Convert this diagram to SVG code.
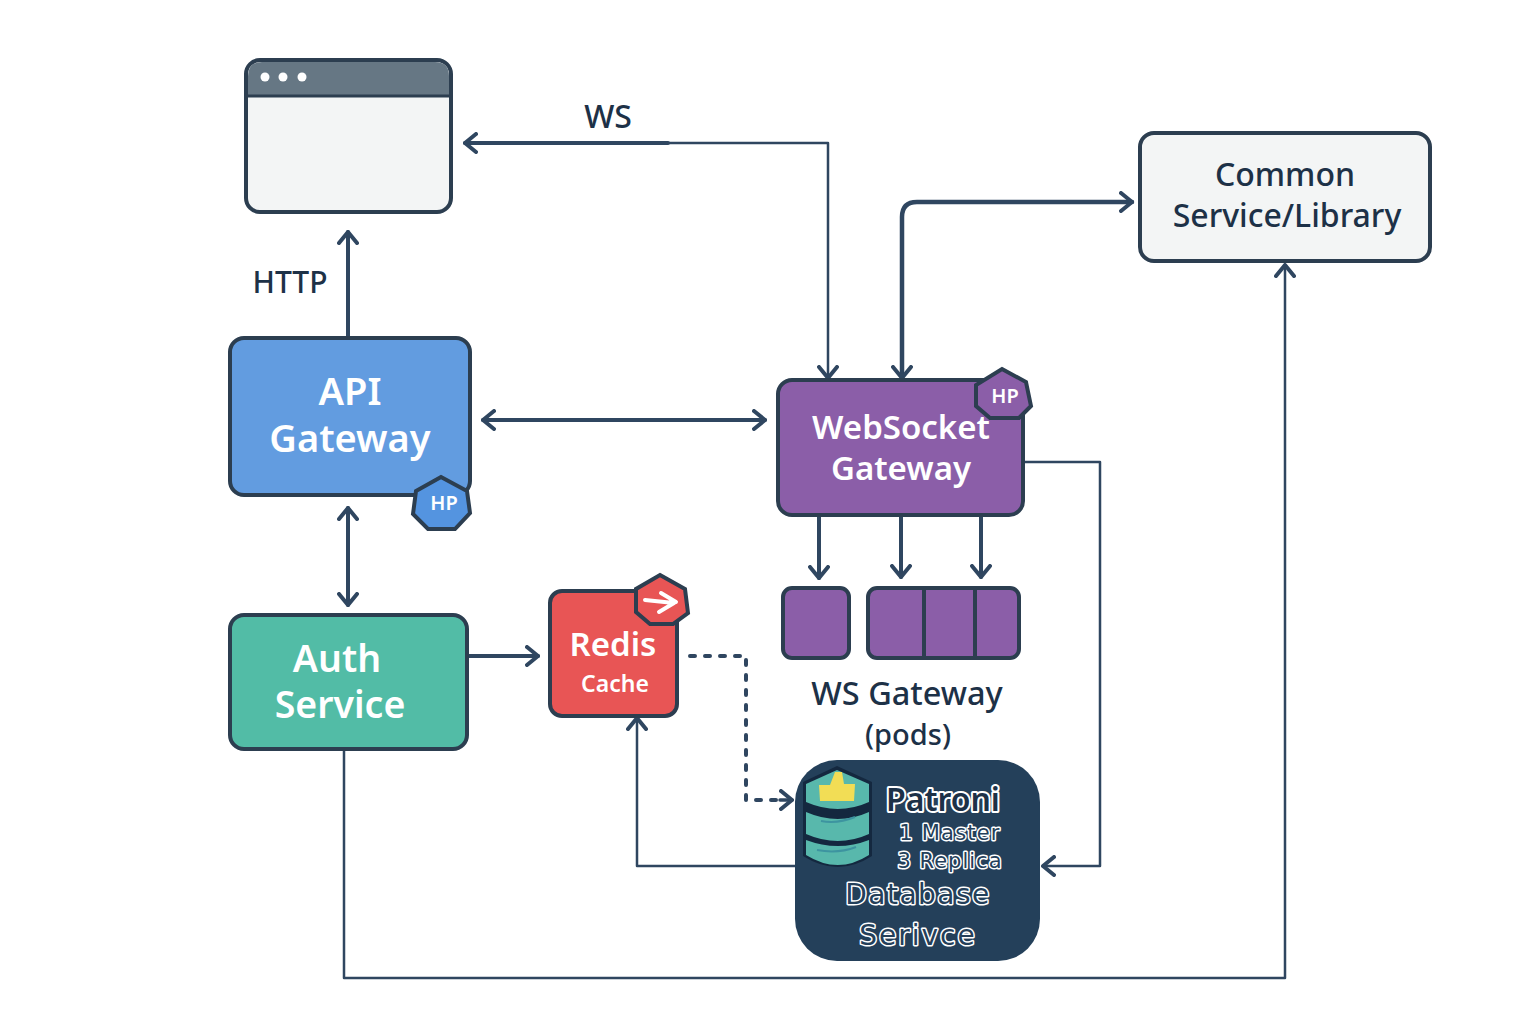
<svg xmlns="http://www.w3.org/2000/svg" width="1536" height="1024" viewBox="0 0 1536 1024">
<style>
text{font-family:"Noto Sans","Open Sans","Liberation Sans",sans-serif;text-anchor:middle}
.n{stroke:#2c3e50;stroke-width:4}
.w{fill:#fff;font-weight:600}
.d{fill:#1d3147;font-weight:500}
.o{fill:#24405a;stroke:#fff;stroke-width:3;paint-order:stroke;stroke-linejoin:round;font-family:"DejaVu Sans",sans-serif}
.p{fill:#1d3147;stroke:#fff;stroke-width:4;paint-order:stroke;stroke-linejoin:round;font-weight:600}
.c{fill:none;stroke:#2f4660;stroke-linecap:round;stroke-linejoin:round}
</style>
<defs>
<marker id="a" viewBox="-13 -11 15 22" refX="0" refY="0" markerUnits="userSpaceOnUse" markerWidth="15" markerHeight="22" orient="auto-start-reverse"><path d="M-11-9L0 0L-11 9" fill="none" stroke="#2f4660" stroke-width="4" stroke-linecap="round" stroke-linejoin="round"/></marker>
</defs>
<rect width="1536" height="1024" fill="#fff"/>
<g id="connectors">
<path class="c" stroke-width="2.500" d="M668 143H828V378" marker-end="url(#a)"/>
<path class="c" stroke-width="4" d="M668 143H465" marker-end="url(#a)"/>
<path class="c" stroke-width="4" d="M348 337V232" marker-end="url(#a)"/>
<path class="c" stroke-width="4" d="M483 420H765" marker-start="url(#a)" marker-end="url(#a)"/>
<path class="c" stroke-width="4.500" d="M902 378V217Q902 202 917 202H1132" marker-start="url(#a)" marker-end="url(#a)"/>
<path class="c" stroke-width="4" d="M348 508V605" marker-start="url(#a)" marker-end="url(#a)"/>
<path class="c" stroke-width="4" d="M468 656H538" marker-end="url(#a)"/>
<path class="c" stroke-width="4" d="M819 516V578" marker-end="url(#a)"/>
<path class="c" stroke-width="4" d="M901 516V577" marker-end="url(#a)"/>
<path class="c" stroke-width="4" d="M981 516V577" marker-end="url(#a)"/>
<path class="c" stroke-width="2.500" d="M1024 462H1100V866H1043" marker-end="url(#a)"/>
<path class="c" stroke-width="2.500" d="M795 866H637V718" marker-end="url(#a)"/>
<path class="c" stroke-width="4" stroke-dasharray="5 10" d="M690 656H746V800H776"/>
<path class="c" stroke-width="3.500" d="M780 800H792" marker-end="url(#a)"/>
<path class="c" stroke-width="2.500" d="M344 750V978H1285V265" marker-end="url(#a)"/>
</g>
<g id="browser">
<rect x="246" y="60" width="205" height="152" rx="14" fill="#f3f5f5" class="n"/>
<path d="M248 95V76Q248 62 262 62H435Q449 62 449 76V95Z" fill="#667784"/>
<path d="M247 96H450" stroke="#2c3e50" stroke-width="3"/>
<circle cx="265" cy="77" r="4.500" fill="#fff"/><circle cx="283" cy="77" r="4.500" fill="#fff"/><circle cx="302" cy="77" r="4.500" fill="#fff"/>
</g>
<g id="label-ws"><text x="608" y="128" font-size="32" class="d">WS</text></g>
<g id="label-http"><text x="290" y="293" font-size="30" class="d">HTTP</text></g>
<g id="common-service">
<rect x="1140" y="133" width="290" height="128" rx="14" fill="#f3f5f5" class="n"/>
<text x="1285" y="186" font-size="32" class="d">Common</text>
<text x="1287" y="227" font-size="32" class="d">Service/Library</text>
</g>
<g id="api-gateway">
<rect x="230" y="338" width="240" height="157" rx="14" fill="#629ce0" class="n"/>
<text x="350" y="405" font-size="38" class="w">API</text>
<text x="350" y="452" font-size="38" class="w">Gateway</text>
<path d="M441 477L467 491L470 513L455 529H428L413 514L416 491Z" fill="#5494e0" class="n"/>
<text x="444" y="510" font-size="20" class="w">HP</text>
</g>
<g id="websocket-gateway">
<rect x="778" y="380" width="245" height="135" rx="14" fill="#8b5ea8" class="n"/>
<path d="M1002 369L1026 382L1031 406L1019 418H990L976 406L976 385Z" fill="#8b5ea8" class="n"/>
<text x="1005" y="403" font-size="20" class="w">HP</text>
<text x="901" y="439" font-size="33" class="w">WebSocket</text>
<text x="901" y="480" font-size="33" class="w">Gateway</text>
</g>
<g id="auth-service">
<rect x="230" y="615" width="237" height="134" rx="14" fill="#52bca6" class="n"/>
<text x="337" y="672" font-size="37.500" class="w">Auth</text>
<text x="340" y="718" font-size="37.500" class="w">Service</text>
</g>
<g id="redis-cache">
<rect x="550" y="591" width="127" height="125" rx="12" fill="#e85555" class="n"/>
<path d="M660 575L685 589L688 613L673 624H650L636 612L636 589Z" fill="#e85555" class="n"/>
<path d="M645 600L674 603L659 612M661 593L676 602" fill="none" stroke="#fff" stroke-width="4" stroke-linecap="round" stroke-linejoin="round"/>
<text x="613" y="656" font-size="33" class="w">Redis</text>
<text x="615" y="692" font-size="23" class="w">Cache</text>
</g>
<g id="ws-pods">
<rect x="783" y="588" width="66" height="70" rx="9" fill="#8b5ea8" class="n"/>
<rect x="868" y="588" width="151" height="70" rx="9" fill="#8b5ea8" class="n"/>
<path d="M924 588V658M975 588V658" stroke="#2c3e50" stroke-width="4"/>
<text x="907" y="705" font-size="32.500" class="d">WS Gateway</text>
<text x="908" y="745" font-size="29" class="d">(pods)</text>
</g>
<g id="database-service">
<rect x="795" y="760" width="245" height="201" rx="42" fill="#24405a"/>
<path d="M803 782L837 766L872 782V856Q838 878 803 856Z" fill="#14283f"/>
<path d="M806 840Q838 852 869 840V855Q838 875 806 855Z" fill="#58b8ac"/>
<path d="M806 812Q838 826 869 812V834Q838 848 806 834Z" fill="#58b8ac"/>
<path d="M806 784L837 770L869 784V802Q838 816 806 802Z" fill="#58b8ac"/>
<path d="M819 785H830L835 772H842L844 784H855L854 801H820Z" fill="#f2dd55"/>
<path d="M821 821Q838 824 855 817M817 850Q838 854 856 847" fill="none" stroke="#3d94a0" stroke-width="2"/>
<text x="943" y="811" font-size="32" class="p">Patroni</text>
<text x="950" y="840" font-size="21" class="o" letter-spacing="1.200">1 Master</text>
<text x="950" y="868" font-size="21" class="o" letter-spacing="1">3 Replica</text>
<text x="918" y="904" font-size="28" class="o" letter-spacing="1.500">Database</text>
<text x="918" y="945" font-size="28" class="o" letter-spacing="2">Serivce</text>
</g>
</svg>
